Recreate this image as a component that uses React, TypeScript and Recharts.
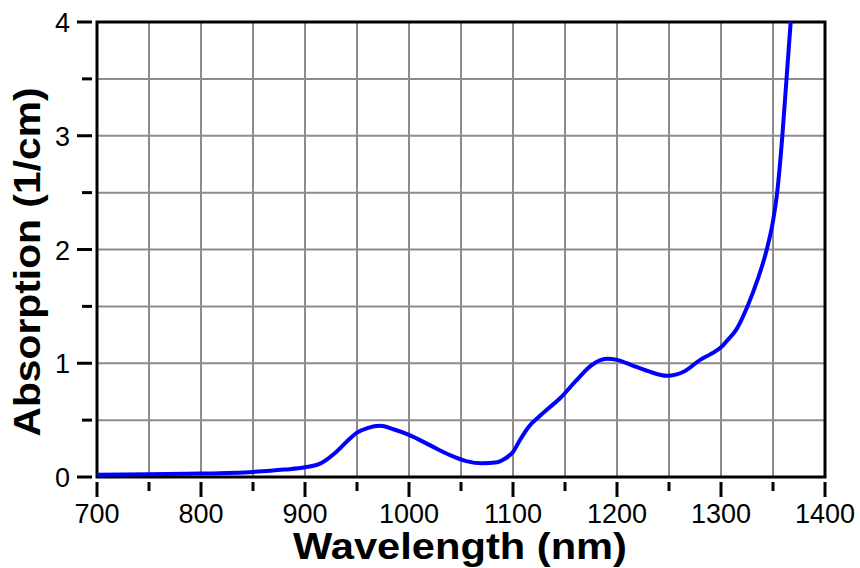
import { CartesianGrid, Line, LineChart, ReferenceArea, XAxis, YAxis } from 'recharts';

// absorption spectrum, wavelength in nm vs absorption in 1/cm
const wavelength = [
  700, 750, 800, 850, 880, 900, 915, 930, 940, 950, 960, 972, 985, 1000, 1020,
  1040, 1055, 1070, 1085, 1092, 1100, 1107, 1115, 1125, 1135, 1145, 1160, 1175,
  1190, 1200, 1215, 1230, 1248, 1265, 1280, 1290, 1300, 1306, 1315, 1325, 1335,
  1344, 1350, 1354, 1359, 1363, 1367,
];
const absorption = [
  0.02, 0.025, 0.03, 0.045, 0.065, 0.085, 0.12, 0.22, 0.31, 0.39, 0.43, 0.45,
  0.42, 0.37, 0.28, 0.19, 0.14, 0.12, 0.13, 0.16, 0.22, 0.33, 0.44, 0.53, 0.61,
  0.69, 0.84, 0.98, 1.04, 1.03, 0.98, 0.93, 0.89, 0.93, 1.03, 1.08, 1.14, 1.2,
  1.3, 1.49, 1.73, 2.0, 2.25, 2.5, 3.0, 3.5, 4.0,
];

const xTicks = [700, 750, 800, 850, 900, 950, 1000, 1050, 1100, 1150, 1200, 1250, 1300, 1350, 1400];
const yTicks = [0, 0.5, 1, 1.5, 2, 2.5, 3, 3.5, 4];

const data = wavelength.map((w, i) => ({ w, a: absorption[i] }));

const FONT = '"Liberation Sans", Arial, sans-serif';

const XTick = ({ x, y, payload }: any) => {
  const major = payload.value % 100 === 0;
  return (
    <g>
      <line x1={x} x2={x} y1={y - 3} y2={y + (major ? 12 : 6)} stroke="#000" strokeWidth={3} />
      {major && (
        <text x={x} y={y + 38} textAnchor="middle" fontSize={27} fontFamily={FONT} fill="#000">
          {payload.value}
        </text>
      )}
    </g>
  );
};

const YTick = ({ x, y, payload }: any) => {
  const major = Number.isInteger(payload.value);
  return (
    <g>
      <line x1={x - (major ? 12 : 7)} x2={x + 3} y1={y} y2={y} stroke="#000" strokeWidth={3} />
      {major && (
        <text x={x - 19} y={y + 10} textAnchor="end" fontSize={27} fontFamily={FONT} fill="#000">
          {payload.value}
        </text>
      )}
    </g>
  );
};

// axis titles, stretched a little like the original artwork
const XTitle = () => (
  <text
    x={460}
    y={559}
    textAnchor="middle"
    fontSize={36}
    fontWeight="bold"
    fontFamily={FONT}
    textLength={334}
    lengthAdjust="spacingAndGlyphs"
    fill="#000">
    Wavelength (nm)
  </text>
);

const YTitle = () => (
  <text
    x={0}
    y={0}
    transform="translate(40, 262) rotate(-90)"
    textAnchor="middle"
    fontSize={36}
    fontWeight="bold"
    fontFamily={FONT}
    textLength={349}
    lengthAdjust="spacingAndGlyphs"
    fill="#000">
    Absorption (1/cm)
  </text>
);

export default function App() {
  return (
    <div style={{ position: 'absolute', left: 0, top: 0, width: 860, height: 568, background: '#fff' }}>
      <LineChart width={860} height={568} data={data} margin={{ top: 22, right: 35, left: 0, bottom: 0 }}>
        <CartesianGrid stroke="#8c8c8c" strokeWidth={2} />
        <XAxis
          dataKey="w"
          type="number"
          domain={[700, 1400]}
          ticks={xTicks}
          interval={0}
          height={91}
          axisLine={false}
          tickLine={false}
          tick={<XTick />}
          label={<XTitle />}
        />
        <YAxis
          type="number"
          domain={[0, 4]}
          ticks={yTicks}
          interval={0}
          width={97}
          axisLine={false}
          tickLine={false}
          tick={<YTick />}
          label={<YTitle />}
        />
        <ReferenceArea x1={700} x2={1400} y1={0} y2={4} fill="none" stroke="#000" strokeWidth={3} ifOverflow="visible" />
        <Line
          dataKey="a"
          type="monotone"
          stroke="#0000ff"
          strokeWidth={4}
          dot={false}
          isAnimationActive={false}
        />
      </LineChart>
    </div>
  );
}
